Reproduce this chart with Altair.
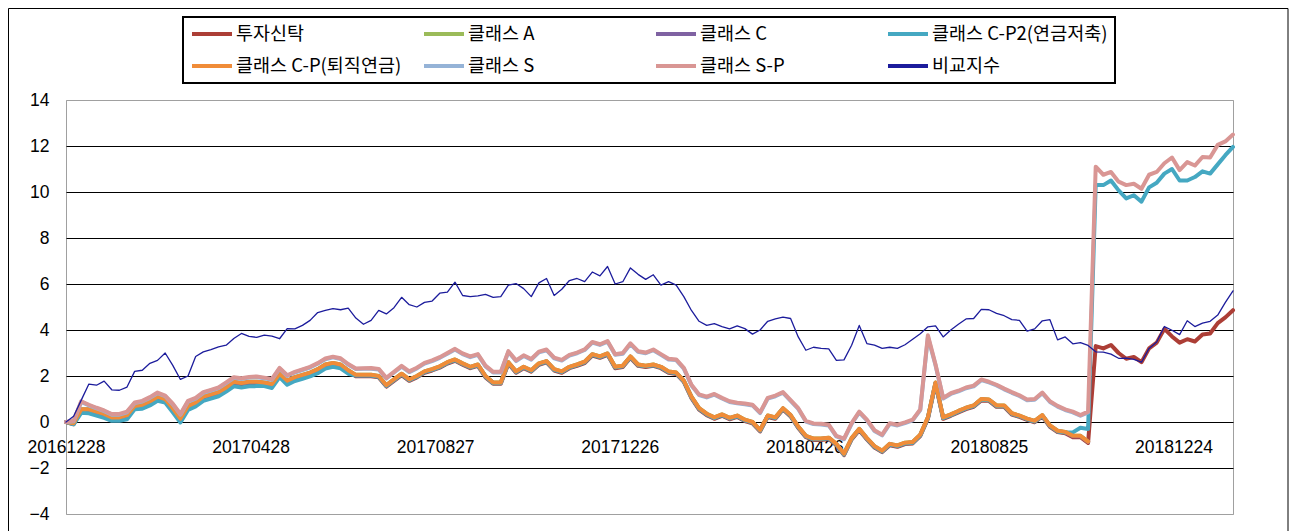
import json
import altair as alt
import pandas as pd

FONT = "Noto Sans CJK KR"
NUM_FONT = "Liberation Sans"

names = ["투자신탁", "클래스 A", "클래스 C", "클래스 C-P2(연금저축)",
         "클래스 C-P(퇴직연금)", "클래스 S", "클래스 S-P", "비교지수"]
colors = ["#AC3E36", "#9BBB59", "#7F62A2", "#45A8C2",
          "#F08C38", "#95B3D7", "#D99694", "#1C1C9C"]
widths = [4, 4, 4, 4, 4, 4, 4, 1.3]

tick_labels = ["20161228", "20170428", "20170827", "20171226",
               "20180426", "20180825", "20181224"]
y_ticks = [-4, -2, 0, 2, 4, 6, 8, 10, 12, 14]

start_date = "2016-12-28"
day_step = 5          # one value every 5 calendar days
last_day = 765

# 투자신탁
trust = [0.0, -0.1, 0.49, 0.49, 0.39, 0.29, 0.14, 0.14, 0.24, 0.64,
         0.69, 0.84, 1.04, 0.94, 0.54, 0.09, 0.64, 0.79, 1.04, 1.14,
         1.24, 1.44, 1.69, 1.64, 1.69, 1.69, 1.66, 1.59, 2.04, 1.74,
         1.89, 1.99, 2.09, 2.24, 2.44, 2.51, 2.44, 2.19, 1.99, 1.99,
         1.99, 1.94, 1.54, 1.79, 2.04, 1.79, 1.94, 2.14, 2.24, 2.36,
         2.54, 2.66, 2.49, 2.34, 2.44, 1.94, 1.66, 1.66, 2.54, 2.14,
         2.34, 2.19, 2.49, 2.59, 2.24, 2.14, 2.34, 2.44, 2.56, 2.89,
         2.79, 2.92, 2.34, 2.39, 2.79, 2.44, 2.39, 2.44, 2.34, 2.14,
         2.09, 1.74, 1.04, 0.54, 0.3, 0.14, 0.27, 0.12, 0.22, 0.04,
         -0.06, -0.41, 0.22, 0.14, 0.54, 0.24, -0.26, -0.66, -0.78, -0.78,
         -0.74, -1.01, -1.44, -0.76, -0.36, -0.76, -1.11, -1.31, -1.01, -1.08,
         -0.96, -0.93, -0.61, 0.14, 1.66, 0.14, 0.27, 0.42, 0.56, 0.66,
         0.94, 0.92, 0.66, 0.66, 0.32, 0.22, 0.09, -0.01, 0.24, -0.21,
         -0.44, -0.49, -0.66, -0.66, -0.91,
         3.3, 3.2, 3.35, 3.0, 2.75, 2.83, 2.6, 3.2, 3.45, 4.05,
         3.72, 3.45, 3.6, 3.5, 3.8, 3.85, 4.3, 4.55, 4.86]

# 클래스 A
class_a = [0.0, -0.05, 0.55, 0.55, 0.45, 0.35, 0.2, 0.2, 0.3, 0.7,
           0.75, 0.9, 1.1, 1.0, 0.6, 0.15, 0.7, 0.85, 1.1, 1.2,
           1.3, 1.5, 1.75, 1.7, 1.75, 1.75, 1.72, 1.65, 2.1, 1.8,
           1.95, 2.05, 2.15, 2.3, 2.5, 2.57, 2.5, 2.25, 2.05, 2.05,
           2.05, 2.0, 1.6, 1.85, 2.1, 1.85, 2.0, 2.2, 2.3, 2.42,
           2.6, 2.72, 2.55, 2.4, 2.5, 2.0, 1.72, 1.72, 2.6, 2.2,
           2.4, 2.25, 2.55, 2.65, 2.3, 2.2, 2.4, 2.5, 2.62, 2.95,
           2.85, 2.98, 2.4, 2.45, 2.85, 2.5, 2.45, 2.5, 2.4, 2.2,
           2.15, 1.8, 1.1, 0.6, 0.36, 0.2, 0.33, 0.18, 0.28, 0.1,
           0.0, -0.35, 0.28, 0.2, 0.6, 0.3, -0.2, -0.6, -0.72, -0.72,
           -0.68, -0.95, -1.38, -0.7, -0.3, -0.7, -1.05, -1.25, -0.95, -1.02,
           -0.9, -0.87, -0.55, 0.2, 1.72, 0.2, 0.33, 0.48, 0.62, 0.72,
           1.0, 0.98, 0.72, 0.72, 0.38, 0.28, 0.15, 0.05, 0.3, -0.15,
           -0.38, -0.43, -0.6, -0.6, -0.85]

# 클래스 C
class_c = [0.0, -0.08, 0.53, 0.53, 0.43, 0.33, 0.18, 0.18, 0.28, 0.68,
           0.73, 0.88, 1.08, 0.98, 0.58, 0.13, 0.68, 0.83, 1.08, 1.18,
           1.28, 1.48, 1.73, 1.68, 1.73, 1.73, 1.7, 1.63, 2.08, 1.78,
           1.93, 2.03, 2.13, 2.28, 2.48, 2.55, 2.48, 2.23, 2.03, 2.03,
           2.03, 1.98, 1.58, 1.83, 2.08, 1.83, 1.98, 2.18, 2.28, 2.4,
           2.58, 2.7, 2.53, 2.38, 2.48, 1.98, 1.7, 1.7, 2.58, 2.18,
           2.38, 2.23, 2.53, 2.63, 2.28, 2.18, 2.38, 2.48, 2.6, 2.93,
           2.83, 2.96, 2.38, 2.43, 2.83, 2.48, 2.43, 2.48, 2.38, 2.18,
           2.13, 1.78, 1.08, 0.58, 0.34, 0.18, 0.31, 0.16, 0.26, 0.08,
           -0.02, -0.37, 0.26, 0.18, 0.58, 0.28, -0.22, -0.62, -0.74, -0.74,
           -0.7, -0.97, -1.4, -0.72, -0.32, -0.72, -1.07, -1.27, -0.97, -1.04,
           -0.92, -0.89, -0.57, 0.18, 1.7, 0.18, 0.31, 0.46, 0.6, 0.7,
           0.98, 0.96, 0.7, 0.7, 0.36, 0.26, 0.13, 0.03, 0.28, -0.17,
           -0.4, -0.45, -0.62, -0.62, -0.87]

# 클래스 C-P2(연금저축)
class_cp2 = [0.0, -0.1, 0.4, 0.38, 0.28, 0.18, 0.05, 0.05, 0.12, 0.55,
             0.58, 0.72, 0.92, 0.85, 0.42, -0.02, 0.52, 0.68, 0.92, 1.02,
             1.12, 1.32, 1.55, 1.5, 1.55, 1.56, 1.56, 1.48, 1.95, 1.62,
             1.78, 1.88, 1.98, 2.12, 2.32, 2.4, 2.33, 2.1, 2.02, 2.02,
             2.02, 1.97, 1.57, 1.82, 2.07, 1.82, 1.97, 2.17, 2.27, 2.39,
             2.57, 2.69, 2.52, 2.37, 2.47, 1.97, 1.69, 1.69, 2.57, 2.17,
             2.37, 2.22, 2.52, 2.62, 2.27, 2.17, 2.37, 2.47, 2.59, 2.92,
             2.82, 2.95, 2.37, 2.42, 2.82, 2.47, 2.42, 2.47, 2.37, 2.17,
             2.12, 1.77, 1.07, 0.57, 0.33, 0.17, 0.3, 0.15, 0.25, 0.07,
             -0.03, -0.38, 0.25, 0.17, 0.57, 0.27, -0.23, -0.63, -0.75, -0.75,
             -0.71, -0.98, -1.41, -0.73, -0.33, -0.73, -1.08, -1.28, -0.98, -1.05,
             -0.93, -0.9, -0.58, 0.17, 1.69, 0.17, 0.3, 0.45, 0.59, 0.69,
             0.97, 0.95, 0.69, 0.69, 0.35, 0.25, 0.12, 0.02, 0.27, -0.18,
             -0.41, -0.46, -0.45, -0.25, -0.3,
             10.3, 10.3, 10.5, 10.07, 9.72, 9.86, 9.58, 10.2, 10.4, 10.8,
             11.0, 10.5, 10.5, 10.65, 10.9, 10.8, 11.2, 11.6, 11.96]

# 클래스 C-P(퇴직연금)
class_cp = [0.0, -0.05, 0.55, 0.55, 0.45, 0.35, 0.2, 0.2, 0.3, 0.7,
            0.75, 0.9, 1.1, 1.0, 0.6, 0.15, 0.7, 0.85, 1.1, 1.2,
            1.3, 1.5, 1.75, 1.7, 1.75, 1.75, 1.72, 1.65, 2.1, 1.8,
            1.95, 2.05, 2.15, 2.3, 2.5, 2.57, 2.5, 2.25, 2.05, 2.05,
            2.05, 2.0, 1.6, 1.85, 2.1, 1.85, 2.0, 2.2, 2.3, 2.42,
            2.6, 2.72, 2.55, 2.4, 2.5, 2.0, 1.72, 1.72, 2.6, 2.2,
            2.4, 2.25, 2.55, 2.65, 2.3, 2.2, 2.4, 2.5, 2.62, 2.95,
            2.85, 2.98, 2.4, 2.45, 2.85, 2.5, 2.45, 2.5, 2.4, 2.2,
            2.15, 1.8, 1.1, 0.6, 0.36, 0.2, 0.33, 0.18, 0.28, 0.1,
            0.0, -0.35, 0.28, 0.2, 0.6, 0.3, -0.2, -0.6, -0.72, -0.72,
            -0.68, -0.95, -1.38, -0.7, -0.3, -0.7, -1.05, -1.25, -0.95, -1.02,
            -0.9, -0.87, -0.55, 0.2, 1.72, 0.2, 0.33, 0.48, 0.62, 0.72,
            1.0, 0.98, 0.72, 0.72, 0.38, 0.28, 0.15, 0.05, 0.3, -0.15,
            -0.38, -0.43, -0.6, -0.6, -0.85]

# 클래스 S
class_s = [0.0, 0.03, 0.87, 0.72, 0.59, 0.47, 0.32, 0.32, 0.42, 0.82,
           0.89, 1.05, 1.25, 1.12, 0.77, 0.32, 0.89, 1.02, 1.27, 1.37,
           1.47, 1.69, 1.92, 1.87, 1.93, 1.95, 1.9, 1.84, 2.32, 2.0,
           2.15, 2.26, 2.37, 2.53, 2.73, 2.81, 2.74, 2.49, 2.3, 2.31,
           2.32, 2.28, 1.89, 2.15, 2.41, 2.17, 2.33, 2.54, 2.65, 2.79,
           2.97, 3.15, 2.95, 2.82, 2.92, 2.42, 2.15, 2.15, 3.05, 2.65,
           2.87, 2.71, 3.03, 3.12, 2.77, 2.67, 2.89, 2.99, 3.13, 3.45,
           3.35, 3.49, 2.92, 2.97, 3.39, 3.05, 2.99, 3.12, 2.92, 2.72,
           2.69, 2.32, 1.59, 1.17, 1.07, 1.19, 1.02, 0.87, 0.81, 0.77,
           0.72, 0.39, 1.02, 1.12, 1.27, 0.92, 0.57, 0.02, -0.09, -0.11,
           -0.15, -0.63, -0.75, -0.08, 0.42, 0.07, -0.39, -0.58, -0.08, -0.15,
           -0.05, 0.07, 0.52, 3.7, 2.47, 1.02, 1.22, 1.33, 1.47, 1.55,
           1.82, 1.72, 1.59, 1.42, 1.27, 1.13, 0.95, 0.97, 1.25, 0.87,
           0.67, 0.52, 0.42, 0.27, 0.42]

# 클래스 S-P
class_sp = [0.0, 0.05, 0.9, 0.75, 0.62, 0.5, 0.35, 0.35, 0.45, 0.85,
            0.92, 1.08, 1.28, 1.15, 0.8, 0.35, 0.92, 1.05, 1.3, 1.4,
            1.5, 1.72, 1.95, 1.9, 1.96, 1.98, 1.93, 1.87, 2.35, 2.03,
            2.18, 2.29, 2.4, 2.56, 2.76, 2.84, 2.77, 2.52, 2.33, 2.34,
            2.35, 2.31, 1.92, 2.18, 2.44, 2.2, 2.36, 2.57, 2.68, 2.82,
            3.0, 3.18, 2.98, 2.85, 2.95, 2.45, 2.18, 2.18, 3.08, 2.68,
            2.9, 2.74, 3.06, 3.15, 2.8, 2.7, 2.92, 3.02, 3.16, 3.48,
            3.38, 3.52, 2.95, 3.0, 3.42, 3.08, 3.02, 3.15, 2.95, 2.75,
            2.72, 2.35, 1.62, 1.2, 1.1, 1.22, 1.05, 0.9, 0.84, 0.8,
            0.75, 0.42, 1.05, 1.15, 1.3, 0.95, 0.6, 0.05, -0.06, -0.08,
            -0.12, -0.6, -0.72, -0.05, 0.45, 0.1, -0.36, -0.55, -0.05, -0.12,
            -0.02, 0.1, 0.55, 3.77, 2.5, 1.05, 1.25, 1.36, 1.5, 1.58,
            1.85, 1.75, 1.62, 1.45, 1.3, 1.16, 0.98, 1.0, 1.28, 0.9,
            0.7, 0.55, 0.45, 0.3, 0.45,
            11.1, 10.75, 10.87, 10.45, 10.3, 10.36, 10.14, 10.75, 10.87, 11.25,
            11.5, 10.95, 11.3, 11.15, 11.52, 11.5, 12.05, 12.2, 12.5]

# 비교지수
benchmark = [0.0, 0.25, 0.95, 1.65, 1.6, 1.78, 1.4, 1.38, 1.52, 2.2,
             2.25, 2.55, 2.68, 3.0, 2.46, 1.85, 2.0, 2.85, 3.05, 3.15,
             3.27, 3.34, 3.63, 3.85, 3.72, 3.68, 3.78, 3.73, 3.62, 4.06,
             4.05, 4.2, 4.42, 4.76, 4.85, 4.93, 4.88, 4.95, 4.52, 4.25,
             4.42, 4.85, 4.7, 4.97, 5.42, 5.1, 5.0, 5.2, 5.26, 5.6,
             5.65, 6.08, 5.5, 5.45, 5.48, 5.55, 5.42, 5.45, 5.95, 6.02,
             5.8, 5.45, 6.05, 6.24, 5.5, 5.77, 6.15, 6.24, 6.1, 6.52,
             6.35, 6.76, 6.0, 6.1, 6.7, 6.42, 6.2, 6.4, 5.95, 6.1,
             5.95, 5.45, 4.85, 4.38, 4.2, 4.28, 4.15, 4.05, 4.18, 4.06,
             3.82, 4.0, 4.38, 4.48, 4.56, 4.5, 3.7, 3.12, 3.25, 3.2,
             3.18, 2.68, 2.7, 3.34, 4.2, 3.41, 3.34, 3.2, 3.25, 3.2,
             3.36, 3.6, 3.84, 4.14, 4.18, 3.7, 4.0, 4.25, 4.48, 4.5,
             4.9, 4.88, 4.72, 4.62, 4.45, 4.42, 3.95, 4.05, 4.4, 4.45,
             3.57, 3.7, 3.4, 3.45, 3.33, 3.05, 3.04, 2.95, 2.77, 2.78,
             2.72, 2.6, 3.2, 3.48, 4.15, 3.99, 3.8, 4.4, 4.15, 4.3,
             4.38, 4.65, 5.2, 5.7]

series_values = [trust, class_a, class_c, class_cp2, class_cp, class_s, class_sp, benchmark]

rows = []
for name, vals in zip(names, series_values):
    for i, v in enumerate(vals):
        rows.append({"series": name, "day": i * day_step, "value": v})
df = pd.DataFrame(rows)

t0 = pd.Timestamp(start_date)
tick_days = [int((pd.Timestamp(t) - t0).days) for t in tick_labels]
label_expr = f"{json.dumps(tick_labels)}[indexof({json.dumps(tick_days)}, datum.value)]"

W, H = 1167, 414
px_per_unit = H / 18.0

x = alt.X("day:Q",
          scale=alt.Scale(domain=[0, last_day], nice=False, zero=False),
          axis=alt.Axis(values=tick_days, labelExpr=label_expr, title=None, grid=False,
                        domain=False, ticks=False, labelFontSize=17.5, labelFont=NUM_FONT,
                        labelColor="black", labelPadding=16, offset=-4 * px_per_unit,
                        labelOverlap=False, labelFlush=False, labelBound=False))
y = alt.Y("value:Q",
          scale=alt.Scale(domain=[-4, 14], nice=False, zero=False),
          axis=alt.Axis(values=y_ticks, title=None, grid=True,
                        gridColor=alt.condition("datum.value == 14 || datum.value == -4",
                                                alt.value("#A0A0A0"), alt.value("black")),
                        gridWidth=1, domain=False, ticks=False, labelPadding=17,
                        labelFontSize=17.5, labelFont=NUM_FONT, labelColor="black"))

legend = alt.Legend(title=None, orient="none", legendX=117, legendY=-83,
                    direction="horizontal", columns=4, symbolType="stroke",
                    symbolSize=1600, symbolStrokeWidth=4, labelFontSize=18.5,
                    labelFont=FONT, labelColor="black", labelOffset=2,
                    columnPadding=10, rowPadding=12, padding=7,
                    strokeColor="black", clipHeight=20, gridAlign="all",
                    labelLimit=400)
color = alt.Color("series:N", scale=alt.Scale(domain=names, range=colors), legend=legend)

border = alt.Chart(pd.DataFrame({"k": [0]})).mark_rect(
    fillOpacity=0, stroke="black", strokeWidth=1
).encode(x=alt.value(-57.5), x2=alt.value(1222), y=alt.value(-91.5), y2=alt.value(530))

layers = [border]
for name, w in zip(names, widths):
    layers.append(
        alt.Chart(df).transform_filter(alt.datum.series == name)
        .mark_line(strokeWidth=w, strokeJoin="round", strokeCap="round")
        .encode(x=x, y=y, color=color, order="day:Q")
    )

chart = alt.layer(*layers).properties(
    width=W, height=H,
    autosize=alt.AutoSizeParams(type="none"),
    padding={"left": 58, "top": 92, "right": 56, "bottom": 20},
).configure(font=FONT, background="white").configure_view(
    stroke="#A0A0A0", strokeWidth=1
).configure_legend(strokeWidth=2)

chart.save("out.html", embed_options={"renderer": "svg", "actions": False})
